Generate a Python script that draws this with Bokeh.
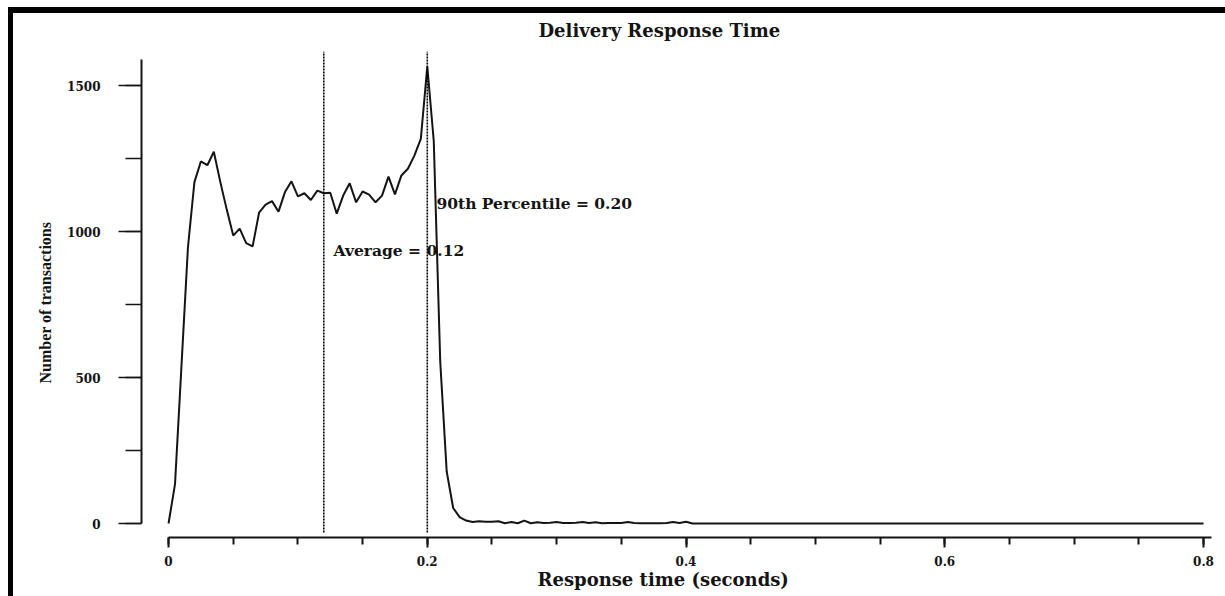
from bokeh.plotting import figure
from bokeh.models import Range1d, SingleIntervalTicker, Label, Title, CustomJSTickFormatter
from bokeh.embed import file_html
from bokeh.resources import INLINE

# ---- data ----
bin_width = 0.005
counts = [
    0, 135, 540, 946, 1169, 1240, 1227, 1273, 1170, 1075,
    986, 1010, 960, 949, 1065, 1092, 1104, 1068, 1135, 1172,
    1120, 1131, 1108, 1140, 1131, 1133, 1061, 1123, 1165, 1100,
    1137, 1126, 1100, 1123, 1188, 1127, 1192, 1215, 1260, 1317,
    1565, 1310, 555, 178, 53, 22, 10, 5, 8, 6,
    6, 8, 1, 5, 1, 10, 1, 4, 2, 3,
    5, 2, 2, 3, 5, 2, 4, 1, 2, 2,
    2, 5, 2, 1, 1, 1, 1, 2, 5, 2,
    6, 0, 0, 0, 0, 0, 0, 0, 0, 0,
    0, 0, 0, 0, 0, 0, 0, 0, 0, 0,
    0, 0, 0, 0, 0, 0, 0, 0, 0, 0,
    0, 0, 0, 0, 0, 0, 0, 0, 0, 0,
    0, 0, 0, 0, 0, 0, 0, 0, 0, 0,
    0, 0, 0, 0, 0, 0, 0, 0, 0, 0,
    0, 0, 0, 0, 0, 0, 0, 0, 0, 0,
    0, 0, 0, 0, 0, 0, 0, 0, 0, 0,
    0,
]
times = [round(i * bin_width, 3) for i in range(len(counts))]

average = 0.12
percentile90 = 0.20
marker_lines_x = [average, percentile90]
marker_labels = ["Average = 0.12", "90th Percentile = 0.20"]

title_text = "Delivery Response Time"
x_title = "Response time (seconds)"
y_title = "Number of transactions"

INK = "#141414"
SERIF = "DejaVu Serif"

p = figure(
    frame_width=1072, frame_height=492,
    x_range=Range1d(-0.0209, 0.8077), y_range=Range1d(-47.9, 1637),
    output_backend="svg", toolbar_location=None,
    min_border_left=128, min_border_right=12, min_border_top=32, min_border_bottom=59,
    background_fill_color="white", border_fill_color="white",
)
p.styles = {
    "margin-top": "7px", "margin-left": "8px",
    "border-style": "solid", "border-color": "#000000",
    "border-width": "6px 0px 0px 5px",
}
p.outline_line_color = None
p.xgrid.visible = False
p.ygrid.visible = False

# title
p.title.text = title_text
p.title.align = "left"
p.title.offset = 397
p.title.text_font = SERIF
p.title.text_font_style = "bold"
p.title.text_font_size = "18px"
p.title.text_color = INK
p.title.standoff = 9

# y axis
ya = p.yaxis[0]
ya.bounds = (0, 1589)
ya.ticker = SingleIntervalTicker(interval=500, num_minor_ticks=2)
ya.axis_line_width = 2
ya.axis_line_color = INK
ya.major_tick_out = 23
ya.major_tick_in = 0
ya.minor_tick_out = 16
ya.minor_tick_in = 0
ya.major_tick_line_width = 1.5
ya.minor_tick_line_width = 1.5
ya.major_tick_line_color = INK
ya.minor_tick_line_color = INK
ya.major_label_standoff = 18
ya.major_label_text_font = SERIF
ya.major_label_text_font_style = "bold"
ya.major_label_text_font_size = "12px"
ya.major_label_text_color = INK

# x axis
xa = p.xaxis[0]
xa.bounds = (0, 0.8062)
xa.ticker = SingleIntervalTicker(interval=0.2, num_minor_ticks=4)
xa.formatter = CustomJSTickFormatter(code="return String(Number(tick.toFixed(1)));")
xa.axis_line_width = 2
xa.axis_line_color = INK
xa.major_tick_out = 10
xa.major_tick_in = 0
xa.minor_tick_out = 7
xa.minor_tick_in = 0
xa.major_tick_line_width = 2
xa.minor_tick_line_width = 2
xa.major_tick_line_color = INK
xa.minor_tick_line_color = INK
xa.major_label_standoff = 8
xa.major_label_text_font = SERIF
xa.major_label_text_font_style = "bold"
xa.major_label_text_font_size = "12px"
xa.major_label_text_color = INK

# axis titles as side-panel titles (so they can be offset along the axis)
p.add_layout(Title(text=x_title, align="left", offset=396, vertical_align="top", standoff=0,
                   text_font=SERIF, text_font_style="bold", text_font_size="18px",
                   text_color=INK), "below")
p.add_layout(Title(text=y_title, align="left", offset=154, vertical_align="bottom", standoff=22,
                   text_font="Liberation Serif", text_font_style="bold", text_font_size="16px",
                   text_color=INK), "left")

# curve
p.line(times, counts, line_color=INK, line_width=2)

# marker lines
p.segment(x0=marker_lines_x, y0=[-31, -31], x1=marker_lines_x, y1=[1616, 1616],
          line_color="black", line_width=1.6, line_dash="2 1")

p.add_layout(Label(x=0.1275, y=935, text=marker_labels[0], text_baseline="middle",
                   text_font=SERIF, text_font_style="bold", text_font_size="15.5px", text_color=INK))
p.add_layout(Label(x=0.2071, y=1096, text=marker_labels[1], text_baseline="middle",
                   text_font=SERIF, text_font_style="bold", text_font_size="15.5px", text_color=INK))

open("out.html", "w").write(file_html(p, INLINE))
